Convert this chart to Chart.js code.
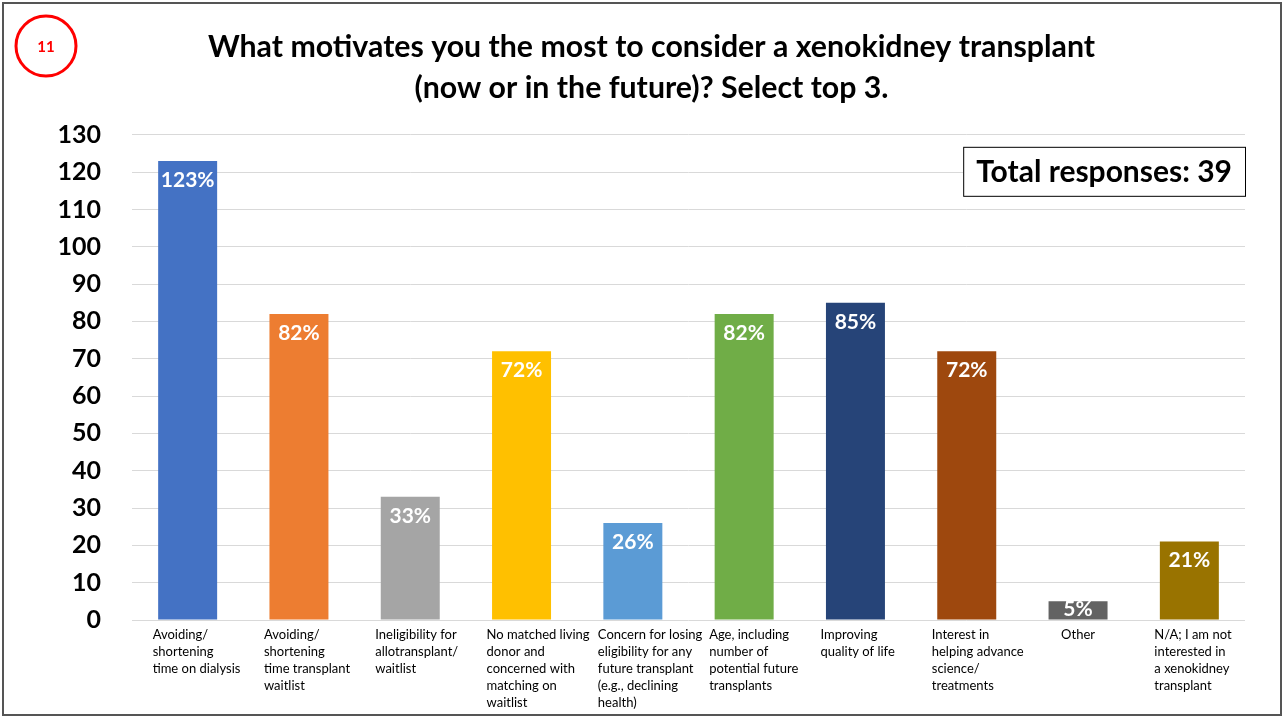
<!DOCTYPE html>
<html>
<head>
<meta charset="utf-8">
<script src="https://cdn.jsdelivr.net/npm/chart.js@4.4.1/dist/chart.umd.min.js"></script>
<style>
  html, body { margin: 0; padding: 0; background: #fff; }
  canvas { display: block; }
</style>
</head>
<body>
<canvas id="motivation" width="1283" height="717"></canvas>
<script>
// answer options, one array entry per wrapped line
var categories = [
    ['Avoiding/', 'shortening', 'time on dialysis'],
    ['Avoiding/', 'shortening', 'time transplant', 'waitlist'],
    ['Ineligibility for', 'allotransplant/', 'waitlist'],
    ['No matched living', 'donor and', 'concerned with', 'matching on', 'waitlist'],
    ['Concern for losing', 'eligibility for any', 'future transplant', '(e.g., declining', 'health)'],
    ['Age, including', 'number of', 'potential future', 'transplants'],
    ['Improving', 'quality of life'],
    ['Interest in', 'helping advance', 'science/', 'treatments'],
    ['Other'],
    ['N/A; I am not', 'interested in', 'a xenokidney', 'transplant']
];
// percent of respondents choosing each option (top 3 allowed, so it sums past 100)
var responsePct = [123, 82, 33, 72, 26, 82, 85, 72, 5, 21];
var barColors = ['#4472C4', '#ED7D31', '#A5A5A5', '#FFC000', '#5B9BD5',
                 '#70AD47', '#264478', '#9E480E', '#636363', '#997300'];
var yMax = 130;
var yStep = 10;
var totalResponses = 39;

var FONT = 'Lato, "Open Sans", sans-serif';

var frameAndBadge = {
    id: 'frameAndBadge',
    beforeDraw: function(chart) {
        var ctx = chart.ctx;
        ctx.save();
        ctx.fillStyle = '#fff';
        ctx.fillRect(0, 0, chart.width, chart.height);
        ctx.restore();
    },
    afterDraw: function(chart) {
        var ctx = chart.ctx;
        var area = chart.chartArea;
        ctx.save();
        // slide frame
        ctx.strokeStyle = '#555';
        ctx.lineWidth = 2;
        ctx.strokeRect(3, 3, chart.width - 5, chart.height - 5);

        // question number badge
        ctx.strokeStyle = '#ff0000';
        ctx.lineWidth = 3;
        ctx.beginPath();
        ctx.arc(46, 46, 30, 0, Math.PI * 2);
        ctx.stroke();
        ctx.fillStyle = '#ff0000';
        ctx.font = 'bold 15px ' + FONT;
        ctx.textAlign = 'center';
        ctx.textBaseline = 'middle';
        ctx.fillText('11', 46, 47);

        // total responses box
        var text = 'Total responses: ' + totalResponses;
        ctx.font = 'bold 30px ' + FONT;
        var w = ctx.measureText(text).width + 26;
        var h = 49;
        var x = area.right - w;
        var y = area.top + 12;
        ctx.fillStyle = '#fff';
        ctx.fillRect(x, y, w, h);
        ctx.strokeStyle = '#000';
        ctx.lineWidth = 1;
        ctx.strokeRect(x + 0.5, y + 0.5, w, h);
        ctx.fillStyle = '#000';
        ctx.fillText(text, x + w / 2, y + h / 2 + 1);
        ctx.restore();
    }
};

// category labels: lines left-aligned inside a block under each bar
var categoryLabels = {
    id: 'categoryLabels',
    afterDraw: function(chart) {
        var ctx = chart.ctx;
        var xScale = chart.scales.x;
        var top = chart.chartArea.bottom + 8;
        ctx.save();
        ctx.font = '13px ' + FONT;
        ctx.fillStyle = '#000';
        ctx.textAlign = 'left';
        ctx.textBaseline = 'top';
        categories.forEach(function(lines, i) {
            var cx = xScale.getPixelForValue(i);
            var maxW = 0;
            lines.forEach(function(l) { maxW = Math.max(maxW, ctx.measureText(l).width); });
            var left = cx - Math.min(maxW / 2, 35);
            lines.forEach(function(l, j) {
                ctx.fillText(l, left, top + j * 17);
            });
        });
        ctx.restore();
    }
};

var valueLabels = {
    id: 'valueLabels',
    afterDatasetsDraw: function(chart) {
        var ctx = chart.ctx;
        var meta = chart.getDatasetMeta(0);
        ctx.save();
        ctx.font = 'bold 21px ' + FONT;
        ctx.fillStyle = '#fff';
        ctx.textAlign = 'center';
        ctx.textBaseline = 'middle';
        meta.data.forEach(function(bar, i) {
            var y = Math.min(bar.y + 19, bar.base - 10);
            ctx.fillText(responsePct[i] + '%', bar.x, y);
        });
        ctx.restore();
    }
};

var ctx = document.getElementById('motivation').getContext('2d');
var chart = new Chart(ctx, {
    type: 'bar',
    data: {
        labels: categories.map(function(c) { return c.join(' '); }),
        datasets: [{
            data: responsePct,
            backgroundColor: barColors,
            borderWidth: 0,
            categoryPercentage: 1,
            barPercentage: 0.53
        }]
    },
    options: {
        responsive: false,
        animation: false,
        devicePixelRatio: 1,
        layout: { padding: { left: 58, right: 38, top: 0, bottom: 0 } },
        plugins: {
            legend: { display: false },
            tooltip: { enabled: false },
            title: {
                display: true,
                text: ['What motivates you the most to consider a xenokidney transplant',
                       '(now or in the future)? Select top 3.'],
                color: '#000',
                font: { family: FONT, size: 30.3, weight: 'bold', lineHeight: 1.35 },
                padding: { top: 26.5, bottom: 26.5 }
            }
        },
        scales: {
            x: {
                grid: { display: false, drawTicks: false },
                border: { display: false },
                ticks: { display: false },
                afterFit: function(scale) { scale.height = 97; }
            },
            y: {
                min: 0,
                max: yMax,
                ticks: {
                    stepSize: yStep,
                    color: '#000',
                    padding: 31,
                    font: { family: FONT, size: 25, weight: 'bold' }
                },
                grid: { color: '#d9d9d9', lineWidth: 1, drawTicks: false },
                border: { display: false },
                afterFit: function(scale) { scale.width = 74; }
            }
        }
    },
    plugins: [frameAndBadge, categoryLabels, valueLabels]
});
</script>
</body>
</html>
